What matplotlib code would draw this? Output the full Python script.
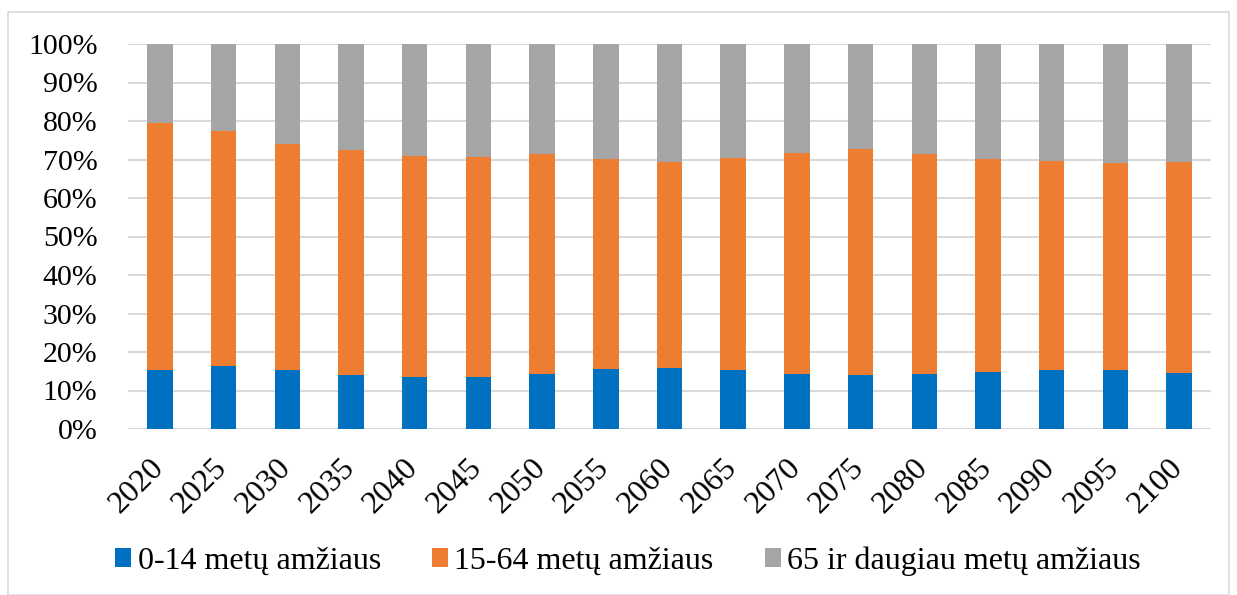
import matplotlib.pyplot as plt
from matplotlib.patches import Rectangle
from matplotlib.ticker import PercentFormatter
from matplotlib.transforms import ScaledTranslation
import numpy as np

plt.rcParams['font.family'] = ['Liberation Serif', 'DejaVu Serif']

years = ['2020', '2025', '2030', '2035', '2040', '2045', '2050', '2055', '2060',
         '2065', '2070', '2075', '2080', '2085', '2090', '2095', '2100']
age_0_14 = [15.4, 16.3, 15.3, 14.0, 13.4, 13.4, 14.4, 15.5, 15.8,
            15.2, 14.4, 14.1, 14.4, 14.9, 15.4, 15.2, 14.5]
age_15_64 = [64.2, 61.0, 58.6, 58.5, 57.4, 57.3, 56.9, 54.7, 53.6,
             55.2, 57.4, 58.6, 57.0, 55.2, 54.1, 54.0, 54.9]
age_65 = [20.4, 22.7, 26.1, 27.5, 29.2, 29.3, 28.7, 29.8, 30.6,
          29.6, 28.2, 27.3, 28.6, 29.9, 30.5, 30.8, 30.6]
labels = ['0-14 metų amžiaus', '15-64 metų amžiaus', '65 ir daugiau metų amžiaus']
colors = ['#0070C0', '#ED7D31', '#A5A5A5']

fig = plt.figure(figsize=(12.37, 5.95), dpi=100)
ax = fig.add_axes([128 / 1237, 1 - 429 / 595, (1211 - 128) / 1237, (429 - 44) / 595])

x = np.arange(len(years))
bottom = np.zeros(len(years))
for vals, lab, col in zip([age_0_14, age_15_64, age_65], labels, colors):
    ax.bar(x, vals, width=0.4, bottom=bottom, color=col, label=lab, zorder=3)
    bottom += np.array(vals)

ax.set_xlim(-0.5, len(years) - 0.5)
ax.set_ylim(0, 100)
ax.set_yticks(np.arange(0, 101, 10))
ax.yaxis.set_major_formatter(PercentFormatter(decimals=0))
ax.grid(axis='y', color='#D9D9D9', linewidth=1.5, zorder=0)
for s in ax.spines.values():
    s.set_visible(False)
ax.tick_params(axis='both', length=0)
ax.tick_params(axis='y', pad=22, labelsize=21.5)
ax.tick_params(axis='x', pad=15, labelsize=23)
ax.set_xticks(x)
ax.set_xticklabels(years, rotation=45, ha='right', va='top', rotation_mode='anchor')
# nudge rotated year labels a bit left/down like Excel
shift = ScaledTranslation(-0.11, -0.03, fig.dpi_scale_trans)
for lbl in ax.get_xticklabels():
    lbl.set_transform(lbl.get_transform() + shift)

fig.legend(loc='center', bbox_to_anchor=(628 / 1237, 1 - 561 / 595), ncol=3,
           frameon=False, fontsize=23, handlelength=0.5, handleheight=0.5,
           handletextpad=0.2, columnspacing=1.6)

# light border around the chart
fig.patches.append(Rectangle((8 / 1237, 0), 1221 / 1237, 1 - 12 / 595,
                             transform=fig.transFigure, fill=False,
                             edgecolor='#D9D9D9', linewidth=1.2))

fig.savefig('out.png', dpi=100)
